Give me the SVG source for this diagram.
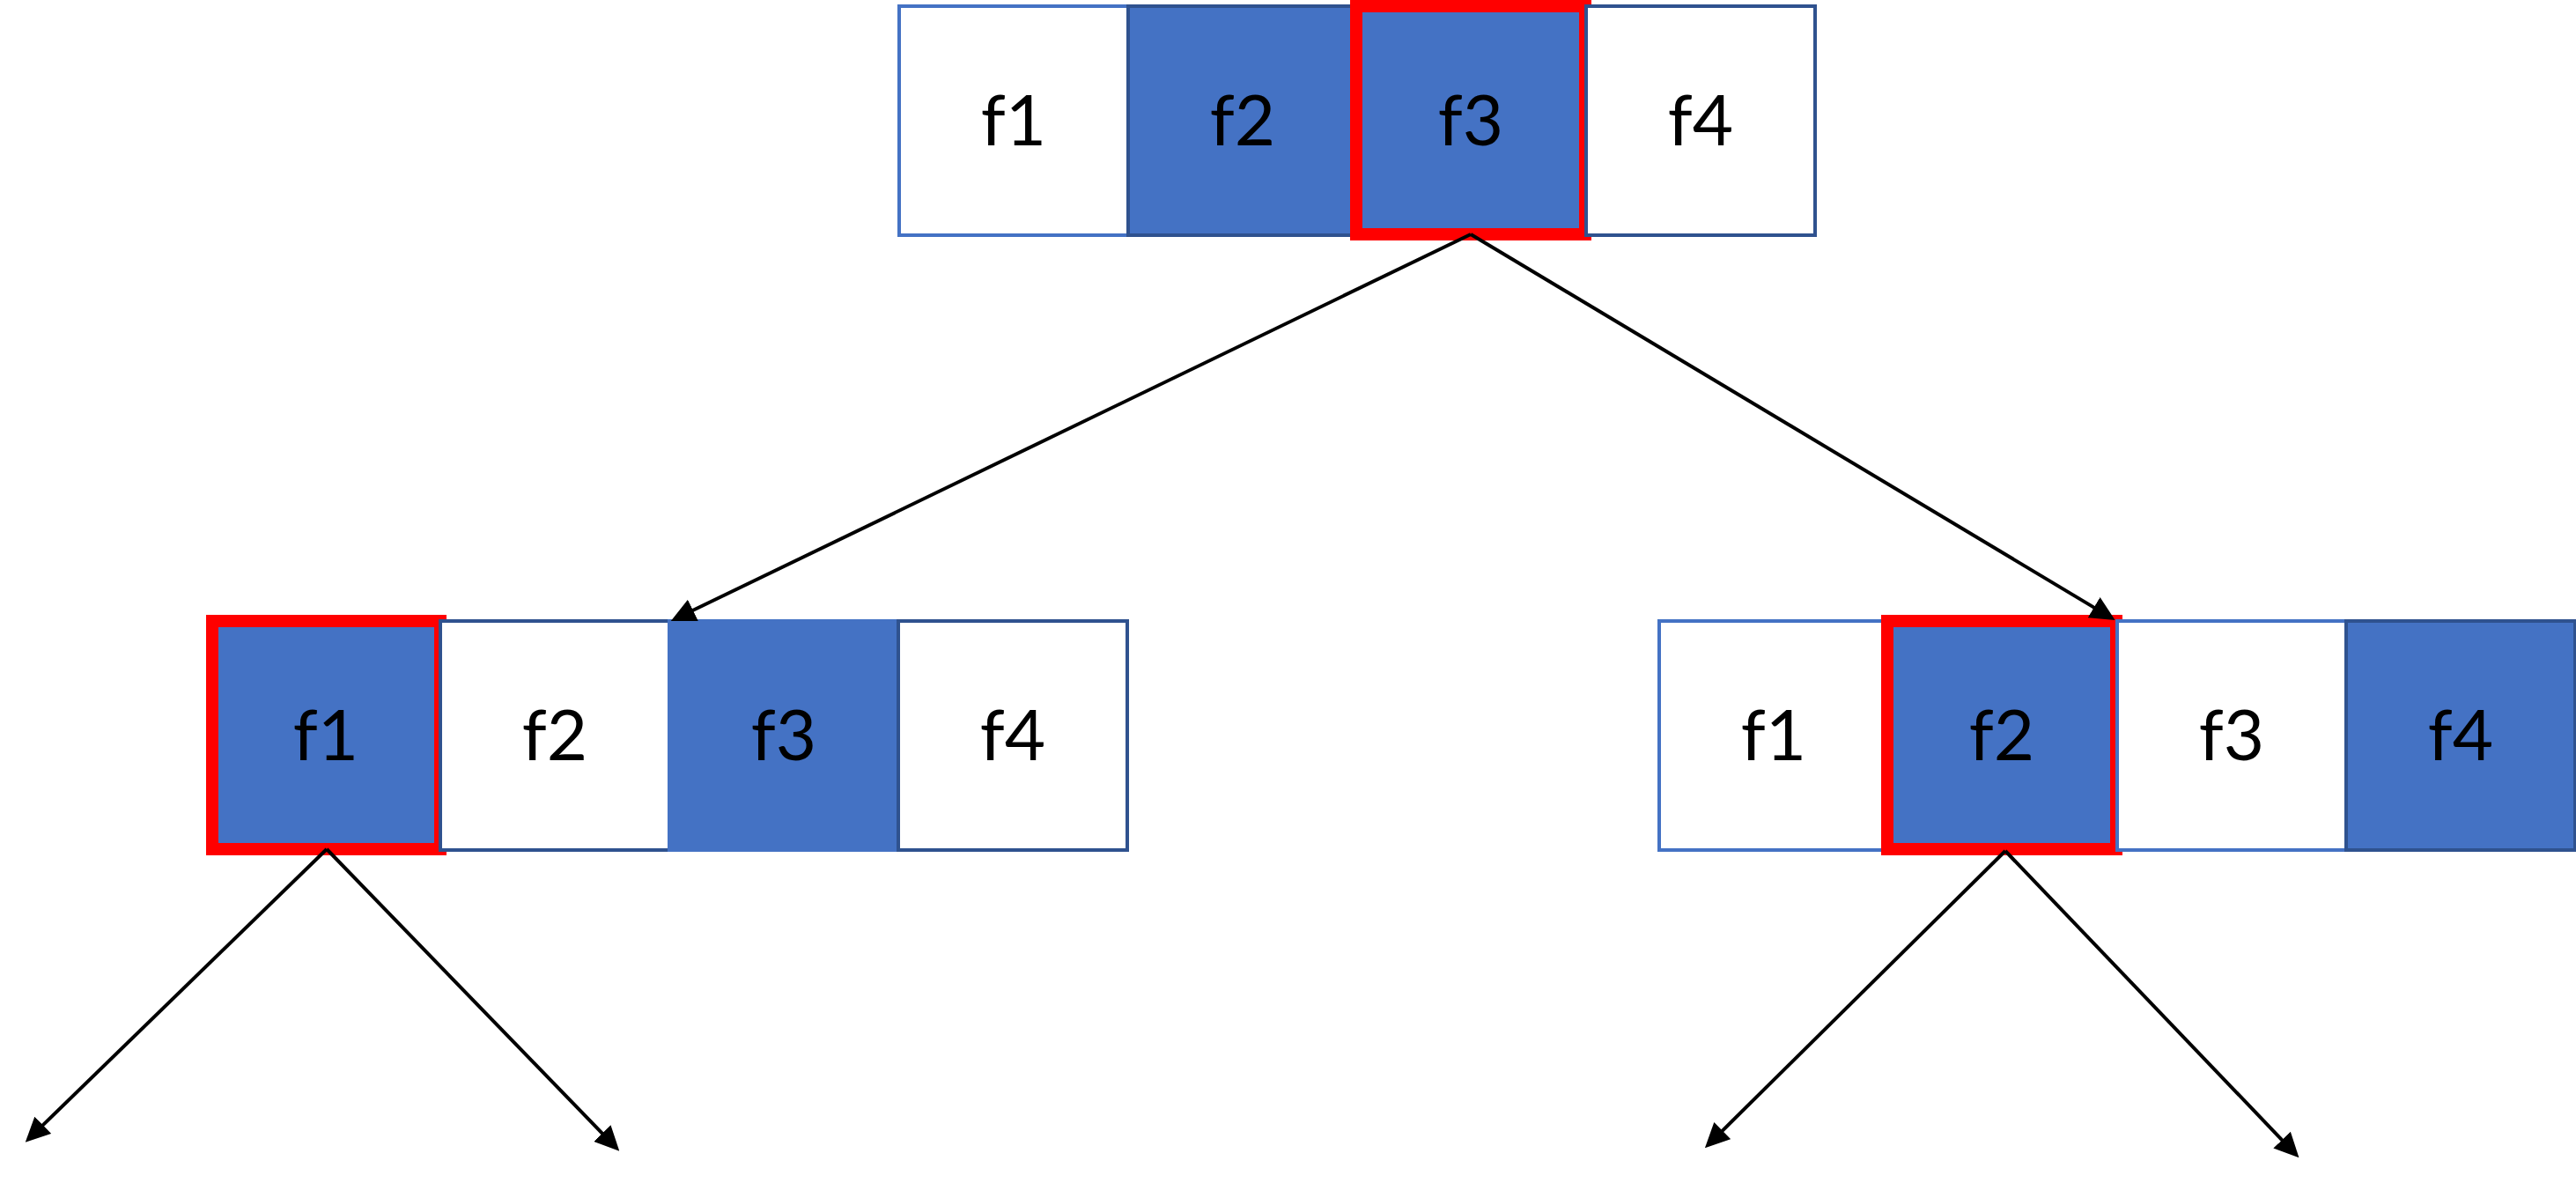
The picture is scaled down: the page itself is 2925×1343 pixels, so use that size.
<svg xmlns="http://www.w3.org/2000/svg" width="2925" height="1343" viewBox="0 0 2925 1343">
<style>
.cell{stroke-width:4}
.w{fill:#FFFFFF}
.b{fill:#4472C4}
.sl{stroke:#4472C4}
.sd{stroke:#2F528F}
.sel{fill:#4472C4;stroke:#FF0000;stroke-width:14}
text{font-family:Lato,"Liberation Sans",sans-serif;font-size:80px;fill:#000000;text-anchor:middle}
.conn{stroke:#000000;stroke-width:4;fill:none}
</style>
<defs>
<marker id="ah" markerUnits="userSpaceOnUse" markerWidth="28" markerHeight="27" viewBox="0 0 28 27" refX="1" refY="13.5" orient="auto">
<path d="M0,0 L28,13.5 L0,27 z" fill="#000000"/>
</marker>
</defs>
<rect width="2925" height="1343" fill="#FFFFFF"/>
<g id="top-row">
<g id="top-f1"><rect class="cell w sl" x="1021" y="7" width="260" height="260"/><text x="1151" y="165">f1</text></g>
<g id="top-f2"><rect class="cell b sd" x="1281" y="7" width="260" height="260"/><text x="1411" y="165">f2</text></g>
<g id="top-f3"><rect class="sel" x="1540" y="7" width="260" height="259"/><text x="1670" y="165">f3</text></g>
<g id="top-f4"><rect class="cell w sd" x="1801" y="7" width="260" height="260"/><text x="1931" y="165">f4</text></g>
</g>
<g id="left-row">
<g id="left-f1"><rect class="sel" x="241" y="705" width="259" height="259"/><text x="370" y="863">f1</text></g>
<g id="left-f2"><rect class="cell w sd" x="500" y="705" width="260" height="260"/><text x="630" y="863">f2</text></g>
<g id="left-f3"><rect class="cell b sl" x="760" y="705" width="260" height="260"/><text x="890" y="863">f3</text></g>
<g id="left-f4"><rect class="cell w sd" x="1020" y="705" width="260" height="260"/><text x="1150" y="863">f4</text></g>
</g>
<g id="right-row">
<g id="right-f1"><rect class="cell w sl" x="1884" y="705" width="260" height="260"/><text x="2014" y="863">f1</text></g>
<g id="right-f2"><rect class="sel" x="2143" y="705" width="260" height="259"/><text x="2273" y="863">f2</text></g>
<g id="right-f3"><rect class="cell w sl" x="2404" y="705" width="260" height="260"/><text x="2534" y="863">f3</text></g>
<g id="right-f4"><rect class="cell b sd" x="2664" y="705" width="260" height="260"/><text x="2794" y="863">f4</text></g>
</g>
<g id="connectors">
<path class="conn" d="M1670,266 L786.0,693.3" marker-end="url(#ah)"/>
<path class="conn" d="M1670,266 L2378.5,690.1" marker-end="url(#ah)"/>
<path class="conn" d="M371,964 L48.1,1277.9" marker-end="url(#ah)"/>
<path class="conn" d="M371,964 L684.5,1287.3" marker-end="url(#ah)"/>
<path class="conn" d="M2277,966 L1955.1,1284.3" marker-end="url(#ah)"/>
<path class="conn" d="M2277,966 L2591.8,1294.8" marker-end="url(#ah)"/>
</g>
</svg>
